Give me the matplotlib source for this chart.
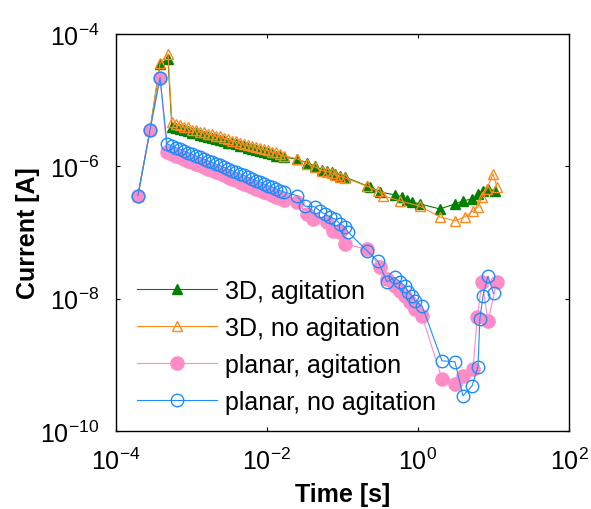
import matplotlib
matplotlib.use("Agg")
import matplotlib.pyplot as plt
import numpy as np

plt.rcParams['font.family'] = ['Liberation Sans', 'DejaVu Sans']
plt.rcParams['mathtext.fontset'] = 'custom'
plt.rcParams['mathtext.rm'] = 'Liberation Sans'

# ---- data ----
t_start = [1.95e-4, 2.82e-4, 3.83e-4, 4.88e-4]
t_start_planar = [1.95e-4, 2.82e-4, 3.83e-4, 4.74e-4]
t_dense = [5.5e-4, 6.2e-4, 7.05e-4, 7.96e-4, 9.0e-4, 1.02e-3, 1.15e-3, 1.30e-3,
           1.47e-3, 1.66e-3, 1.87e-3, 2.11e-3, 2.38e-3, 2.69e-3, 3.04e-3, 3.44e-3,
           3.88e-3, 4.39e-3, 4.95e-3, 5.6e-3, 6.32e-3, 7.14e-3, 8.07e-3, 9.12e-3,
           1.03e-2, 1.16e-2, 1.31e-2, 1.49e-2, 1.68e-2]

# 3D, agitation
i3a_start = [3.6e-7, 3.5e-6, 3.5e-5, 4.2e-5]
i3a_dense = [3.94e-6, 3.80e-6, 3.63e-6, 3.55e-6, 3.39e-6, 3.24e-6, 3.16e-6, 3.02e-6,
             2.88e-6, 2.82e-6, 2.69e-6, 2.57e-6, 2.51e-6, 2.40e-6, 2.29e-6, 2.24e-6,
             2.14e-6, 2.04e-6, 2.0e-6, 1.91e-6, 1.82e-6, 1.78e-6, 1.70e-6, 1.62e-6,
             1.58e-6, 1.51e-6, 1.45e-6, 1.41e-6, 1.37e-6]
t3a_tail = [0.025, 0.0339, 0.0432, 0.0535, 0.0624, 0.0726, 0.0796, 0.0927, 0.108,
            0.211, 0.231, 0.314, 0.496, 0.614, 0.715, 0.833, 1.06, 1.95, 3.09, 3.94,
            5.19, 6.23, 7.26, 8.45, 10.5]
i3a_tail = [1.29e-6, 1.13e-6, 1.01e-6, 8.8e-7, 8.5e-7, 8.2e-7, 7.7e-7, 7.2e-7, 6.9e-7,
            5.06e-7, 4.9e-7, 4.1e-7, 3.7e-7, 3.45e-7, 3.1e-7, 2.9e-7, 2.7e-7, 2.27e-7,
            2.7e-7, 3.0e-7, 3.22e-7, 3.83e-7, 4.25e-7, 4.56e-7, 4.25e-7]

# 3D, no agitation
i3n_start = [3.6e-7, 3.5e-6, 3.6e-5, 5.0e-5]
i3n_dense = [4.69e-6, 4.3e-6, 4.2e-6, 3.9e-6, 3.9e-6, 3.6e-6, 3.6e-6, 3.35e-6,
             3.3e-6, 3.1e-6, 3.05e-6, 2.85e-6, 2.85e-6, 2.65e-6, 2.6e-6, 2.45e-6,
             2.4e-6, 2.25e-6, 2.2e-6, 2.1e-6, 2.05e-6, 1.95e-6, 1.9e-6, 1.8e-6,
             1.75e-6, 1.65e-6, 1.62e-6, 1.52e-6, 1.45e-6]
t3n_tail = [0.025, 0.0339, 0.0432, 0.0535, 0.0624, 0.0726, 0.0796, 0.0927, 0.108,
            0.211, 0.295, 0.344, 0.578, 1.06, 1.95, 3.09, 4.19, 5.35, 6.23, 7.04,
            8.2, 9.84, 11.1]
i3n_tail = [1.3e-6, 1.1e-6, 9.8e-7, 8.6e-7, 8.3e-7, 8.0e-7, 7.5e-7, 7.0e-7, 6.7e-7,
            5.0e-7, 4.2e-7, 3.6e-7, 3.0e-7, 2.5e-7, 1.72e-7, 1.5e-7, 1.72e-7, 2.12e-7,
            2.44e-7, 3.45e-7, 4.56e-7, 7.7e-7, 4.9e-7]

# planar, agitation
ipa_start = [3.6e-7, 3.5e-6, 2.2e-5, 1.65e-6]
ipa_dense = [1.54e-6, 1.45e-6, 1.37e-6, 1.29e-6, 1.22e-6, 1.15e-6, 1.09e-6, 1.03e-6,
             9.7e-7, 9.2e-7, 8.7e-7, 8.2e-7, 7.8e-7, 7.3e-7, 6.9e-7, 6.5e-7,
             6.2e-7, 5.8e-7, 5.5e-7, 5.2e-7, 4.9e-7, 4.6e-7, 4.4e-7, 4.1e-7,
             3.9e-7, 3.7e-7, 3.5e-7, 3.3e-7, 3.1e-7]
tpa_tail = [0.025, 0.0339, 0.0407, 0.0624, 0.0749, 0.0927, 0.108, 0.211, 0.314,
            0.388, 0.496, 0.578, 0.673, 0.78, 0.913, 1.13, 2.08, 3.09, 3.94, 5.35,
            6.1, 7.04, 8.45, 11.1]
ipa_tail = [2.9e-7, 1.91e-7, 1.6e-7, 1.45e-7, 1.06e-7, 1.02e-7, 6.7e-8, 5.6e-8, 3.0e-8,
            2.0e-8, 1.56e-8, 1.3e-8, 1.1e-8, 8.9e-9, 7.0e-9, 5.5e-9, 6.15e-10, 5.2e-10,
            6.8e-10, 8.7e-10, 5.3e-9, 1.8e-8, 4.6e-9, 1.8e-8]

# planar, no agitation
ipn_start = [3.6e-7, 3.5e-6, 2.2e-5, 2.2e-6]
ipn_dense = [2.03e-6, 1.92e-6, 1.81e-6, 1.71e-6, 1.61e-6, 1.52e-6, 1.44e-6, 1.36e-6,
             1.28e-6, 1.21e-6, 1.15e-6, 1.08e-6, 1.03e-6, 9.7e-7, 9.1e-7, 8.6e-7,
             8.1e-7, 7.7e-7, 7.3e-7, 6.8e-7, 6.5e-7, 6.1e-7, 5.8e-7, 5.4e-7,
             5.1e-7, 4.9e-7, 4.6e-7, 4.3e-7, 4.1e-7]
tpn_tail = [0.025, 0.0318, 0.0432, 0.0504, 0.0586, 0.0683, 0.0796, 0.0927, 0.108,
            0.118, 0.211, 0.295, 0.388, 0.496, 0.578, 0.673, 0.738, 0.834, 0.913,
            1.13, 2.08, 3.09, 3.94, 5.19, 6.23, 6.6, 7.26, 8.45, 10.0]
ipn_tail = [3.6e-7, 2.5e-7, 2.44e-7, 2.1e-7, 1.9e-7, 1.72e-7, 1.6e-7, 1.35e-7, 1.22e-7,
            1.02e-7, 5.3e-8, 3.7e-8, 1.8e-8, 2.1e-8, 1.79e-8, 1.56e-8, 1.27e-8, 1.1e-8,
            9.3e-9, 7.8e-9, 1.15e-9, 1.11e-9, 3.4e-10, 4.8e-10, 9.3e-10, 5e-9, 1.1e-8,
            2.2e-8, 1.2e-8]

labels = ["3D, agitation", "3D, no agitation", "planar, agitation", "planar, no agitation"]
x_ticks = [1e-4, 1e-2, 1e0, 1e2]
x_ticklabels = [r'$\mathregular{10^{-4}}$', r'$\mathregular{10^{-2}}$',
                r'$\mathregular{10^{0}}$', r'$\mathregular{10^{2}}$']
y_ticks = [1e-10, 1e-8, 1e-6, 1e-4]
y_ticklabels = [r'$\mathregular{10^{-10}}$', r'$\mathregular{10^{-8}}$',
                r'$\mathregular{10^{-6}}$', r'$\mathregular{10^{-4}}$']

# ---- plot ----
fig = plt.figure(figsize=(5.91, 5.10), dpi=100)
ax = fig.add_axes([116/591, 1-432/510, (569-116)/591, (432-35)/510])

green = '#008000'
orange = '#FF8A1C'
pink = '#FF8CC6'
blue = '#1E8CFF'

ax.plot(t_start + t_dense + t3a_tail, i3a_start + i3a_dense + i3a_tail,
        color=green, lw=0.8, marker='^', ms=7, mfc=green, mec=green, label=labels[0])
ax.plot(t_start + t_dense + t3n_tail, i3n_start + i3n_dense + i3n_tail,
        color=orange, lw=0.8, marker='^', ms=7, mfc='none', mec=orange, mew=1.0,
        label=labels[1])
ax.plot(t_start_planar + t_dense + tpa_tail, ipa_start + ipa_dense + ipa_tail,
        color=pink, lw=0.8, marker='o', ms=9.5, mfc=pink, mec=pink, label=labels[2])
ax.plot(t_start_planar + t_dense + tpn_tail, ipn_start + ipn_dense + ipn_tail,
        color=blue, lw=0.8, marker='o', ms=9, mfc='none', mec=blue, mew=1.0,
        label=labels[3])

ax.set_xscale('log')
ax.set_yscale('log')
ax.set_xlim(1e-4, 1e2)
ax.set_ylim(1e-10, 1e-4)
ax.set_xticks(x_ticks)
ax.set_xticklabels(x_ticklabels)
ax.set_yticks(y_ticks)
ax.set_yticklabels(y_ticklabels)
ax.minorticks_off()
ax.tick_params(which='both', direction='in', top=True, right=True, length=3,
               width=0.8, labelsize=18)
ax.tick_params(axis='x', pad=12)
ax.tick_params(axis='y', pad=12)
for s in ax.spines.values():
    s.set_linewidth(1.0)

ax.set_xlabel('Time [s]', fontsize=18, fontweight='bold')
ax.set_ylabel('Current [A]', fontsize=18, fontweight='bold')
ax.xaxis.set_label_coords(0.5, (432 - 495) / 397, transform=ax.transAxes)
ax.yaxis.set_label_coords((28 - 116) / 453, 0.5, transform=ax.transAxes)
ax.xaxis.label.set_va('center')
ax.yaxis.label.set_va('center')

leg = ax.legend(loc='upper left', bbox_to_anchor=(137/591, 1-280/510),
                bbox_transform=fig.transFigure, frameon=False, fontsize=18,
                handlelength=3.2, handletextpad=0.32, labelspacing=0.52,
                borderpad=0, borderaxespad=0)

fig.savefig('out.png', dpi=100)
